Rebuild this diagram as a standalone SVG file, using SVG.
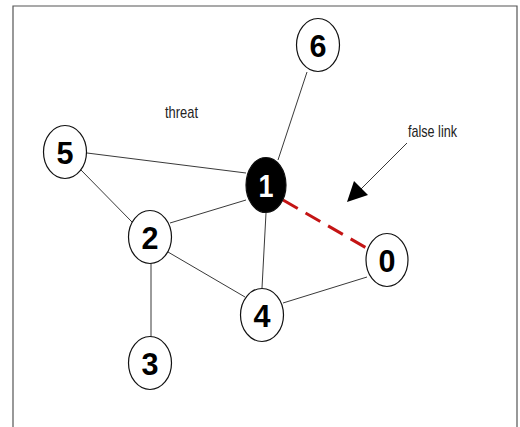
<svg xmlns="http://www.w3.org/2000/svg" width="520" height="427" viewBox="0 0 520 427">
<defs>
<style>
.edge{stroke:#222;stroke-width:0.9;fill:none}
.node ellipse{fill:#fff;stroke:#111;stroke-width:1.2}
.node text{font-family:"Liberation Sans",Arial,sans-serif;font-weight:bold;font-size:32px;text-anchor:middle;fill:#000}
.lbl{font-family:"Liberation Sans",Arial,sans-serif;font-size:17px;fill:#222}
</style>
</defs>
<rect x="0" y="0" width="520" height="427" fill="#fff"/>
<path d="M13,427 V6 H517 V427" fill="none" stroke="#555" stroke-width="1.2"/>
<g id="connectors">
<line class="edge" x1="307" y1="72" x2="278" y2="160"/>
<line class="edge" x1="87" y1="153" x2="246" y2="173"/>
<line class="edge" x1="81" y1="170" x2="132" y2="222"/>
<line class="edge" x1="170" y1="223" x2="246" y2="200"/>
<line class="edge" x1="266" y1="213" x2="262" y2="288"/>
<line class="edge" x1="168" y1="252" x2="245" y2="297"/>
<line class="edge" x1="151" y1="263" x2="151" y2="337"/>
<line class="edge" x1="283" y1="303" x2="367" y2="277"/>
<line x1="283" y1="200" x2="370" y2="250" stroke="#c41414" stroke-width="3" stroke-dasharray="17,9"/>
<line class="edge" x1="407" y1="143" x2="360" y2="190"/>
<path d="M347,202 L354,181 L368,195 Z" fill="#000"/>
</g>
<g id="node6" class="node"><ellipse cx="318" cy="45" rx="21.5" ry="26.5"/><text x="318" y="56.5" textLength="17" lengthAdjust="spacingAndGlyphs">6</text></g>
<g id="node5" class="node"><ellipse cx="65" cy="152" rx="21.5" ry="26.5"/><text x="65" y="163.5" textLength="17" lengthAdjust="spacingAndGlyphs">5</text></g>
<g id="node1" class="node"><ellipse cx="266" cy="185" rx="20" ry="27.5" style="fill:#000"/><text x="266" y="196.5" style="fill:#fff" textLength="15" lengthAdjust="spacingAndGlyphs">1</text></g>
<g id="node2" class="node"><ellipse cx="150" cy="237" rx="21.5" ry="26.5"/><text x="150" y="248.5" textLength="17" lengthAdjust="spacingAndGlyphs">2</text></g>
<g id="node0" class="node"><ellipse cx="387" cy="260" rx="21" ry="26.5"/><text x="387" y="271.5" textLength="17" lengthAdjust="spacingAndGlyphs">0</text></g>
<g id="node4" class="node"><ellipse cx="262" cy="315" rx="21.5" ry="26.5"/><text x="262" y="326.5" textLength="17" lengthAdjust="spacingAndGlyphs">4</text></g>
<g id="node3" class="node"><ellipse cx="150" cy="363" rx="21.5" ry="26.5"/><text x="150" y="374.5" textLength="17" lengthAdjust="spacingAndGlyphs">3</text></g>
<text class="lbl" x="165" y="118" textLength="33" lengthAdjust="spacingAndGlyphs">threat</text>
<text class="lbl" x="408" y="137" textLength="49" lengthAdjust="spacingAndGlyphs">false link</text>
</svg>
